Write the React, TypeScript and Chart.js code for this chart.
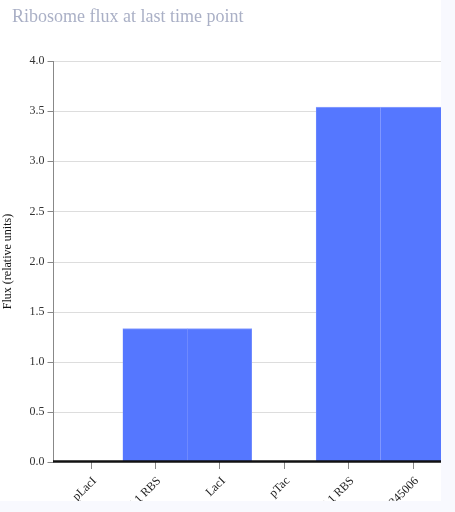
import React, { useEffect, useRef } from "react";
import { Chart, registerables } from "chart.js";

Chart.register(...registerables);

const TITLE = "Ribosome flux at last time point";
const Y_TITLE = "Flux (relative units)";
const categories = ["pLacI", "T7 A1 RBS", "LacI", "pTac", "T7 A1 RBS", "BBa_K345006"];
const fluxValues = [0, 1.33, 1.33, 0, 3.54, 3.54];
const yTicks = [0, 0.5, 1, 1.5, 2, 2.5, 3, 3.5, 4];

const SERIF = "'Liberation Serif', 'Times New Roman', serif";
const AXIS_X = 53.5;

const axesPlugin = {
  id: "customAxes",
  beforeDatasetsDraw(chart: any) {
    const { ctx, scales } = chart;
    const y = scales.y;
    ctx.save();
    ctx.strokeStyle = "#dddddd";
    ctx.lineWidth = 1;
    yTicks.forEach((v) => {
      if (v === 0) return;
      const py = Math.round(y.getPixelForValue(v)) + 0.5;
      ctx.beginPath();
      ctx.moveTo(AXIS_X, py);
      ctx.lineTo(chart.width, py);
      ctx.stroke();
    });
    ctx.restore();
  },
  afterDatasetsDraw(chart: any) {
    const { ctx, scales, chartArea } = chart;
    const y = scales.y;
    const x = scales.x;
    ctx.save();
    ctx.strokeStyle = "#888888";
    ctx.lineWidth = 1;
    ctx.beginPath();
    ctx.moveTo(AXIS_X, y.getPixelForValue(4));
    ctx.lineTo(AXIS_X, chartArea.bottom);
    ctx.stroke();
    yTicks.forEach((v) => {
      const py = Math.round(y.getPixelForValue(v)) + 0.5;
      ctx.beginPath();
      ctx.moveTo(AXIS_X - 6, py);
      ctx.lineTo(AXIS_X, py);
      ctx.stroke();
    });
    categories.forEach((_, i) => {
      const px = Math.round(x.getPixelForValue(i)) + 0.5;
      ctx.beginPath();
      ctx.moveTo(px, chartArea.bottom);
      ctx.lineTo(px, chartArea.bottom + 7);
      ctx.stroke();
    });
    ctx.strokeStyle = "#111111";
    ctx.lineWidth = 2.5;
    ctx.beginPath();
    ctx.moveTo(AXIS_X - 0.5, chartArea.bottom - 0.5);
    ctx.lineTo(chart.width, chartArea.bottom - 0.5);
    ctx.stroke();
    ctx.fillStyle = "#aab0c6";
    ctx.font = `18px ${SERIF}`;
    ctx.textAlign = "left";
    ctx.textBaseline = "alphabetic";
    ctx.fillText(TITLE, 12, 22);
    ctx.restore();
  },
};

export default function App() {
  const canvasRef = useRef<HTMLCanvasElement | null>(null);

  useEffect(() => {
    const canvas = canvasRef.current;
    if (!canvas) return;
    const chart = new Chart(canvas, {
      type: "bar",
      data: {
        labels: categories,
        datasets: [
          {
            data: fluxValues,
            backgroundColor: "#5577ff",
            borderColor: "#8ea2ff",
            borderWidth: { top: 1, left: 0.5, right: 0.5, bottom: 0 },
            borderSkipped: false,
            barPercentage: 1,
            categoryPercentage: 1,
          },
        ],
      },
      plugins: [axesPlugin],
      options: {
        responsive: false,
        animation: false,
        layout: { padding: { top: 61, right: 1, left: 0, bottom: 0 } },
        plugins: {
          legend: { display: false },
          tooltip: { enabled: false },
          title: { display: false },
        },
        scales: {
          x: {
            type: "category",
            offset: true,
            grid: { display: false, drawTicks: true, tickLength: 8 },
            border: { display: false },
            ticks: {
              autoSkip: false,
              minRotation: 45,
              maxRotation: 45,
              padding: 4,
              labelOffset: 4,
              color: "#222222",
              font: { family: SERIF, size: 12 },
            },
            afterFit: (scale: any) => {
              scale.height = 39;
            },
          },
          y: {
            min: 0,
            max: 4,
            grid: { display: true, color: "rgba(0,0,0,0)", drawTicks: true, tickLength: 8 },
            border: { display: false },
            ticks: {
              stepSize: 0.5,
              padding: 6,
              color: "#333333",
              font: { family: SERIF, size: 12 },
              callback: (v: any) => Number(v).toFixed(1),
            },
            title: {
              display: true,
              text: Y_TITLE,
              color: "#111111",
              font: { family: SERIF, size: 12 },
              padding: { top: 1, bottom: 0 },
            },
            afterFit: (scale: any) => {
              scale.width = 58.4;
            },
          },
        },
      },
    });
    return () => chart.destroy();
  }, []);

  return (
    <div style={{ position: "fixed", inset: 0, background: "#f8f9fe" }}>
      <div style={{ position: "absolute", left: 0, top: 0, width: 441, height: 501, overflow: "hidden", background: "#ffffff" }}>
        <canvas ref={canvasRef} width={446} height={501} style={{ display: "block" }} />
      </div>
    </div>
  );
}
